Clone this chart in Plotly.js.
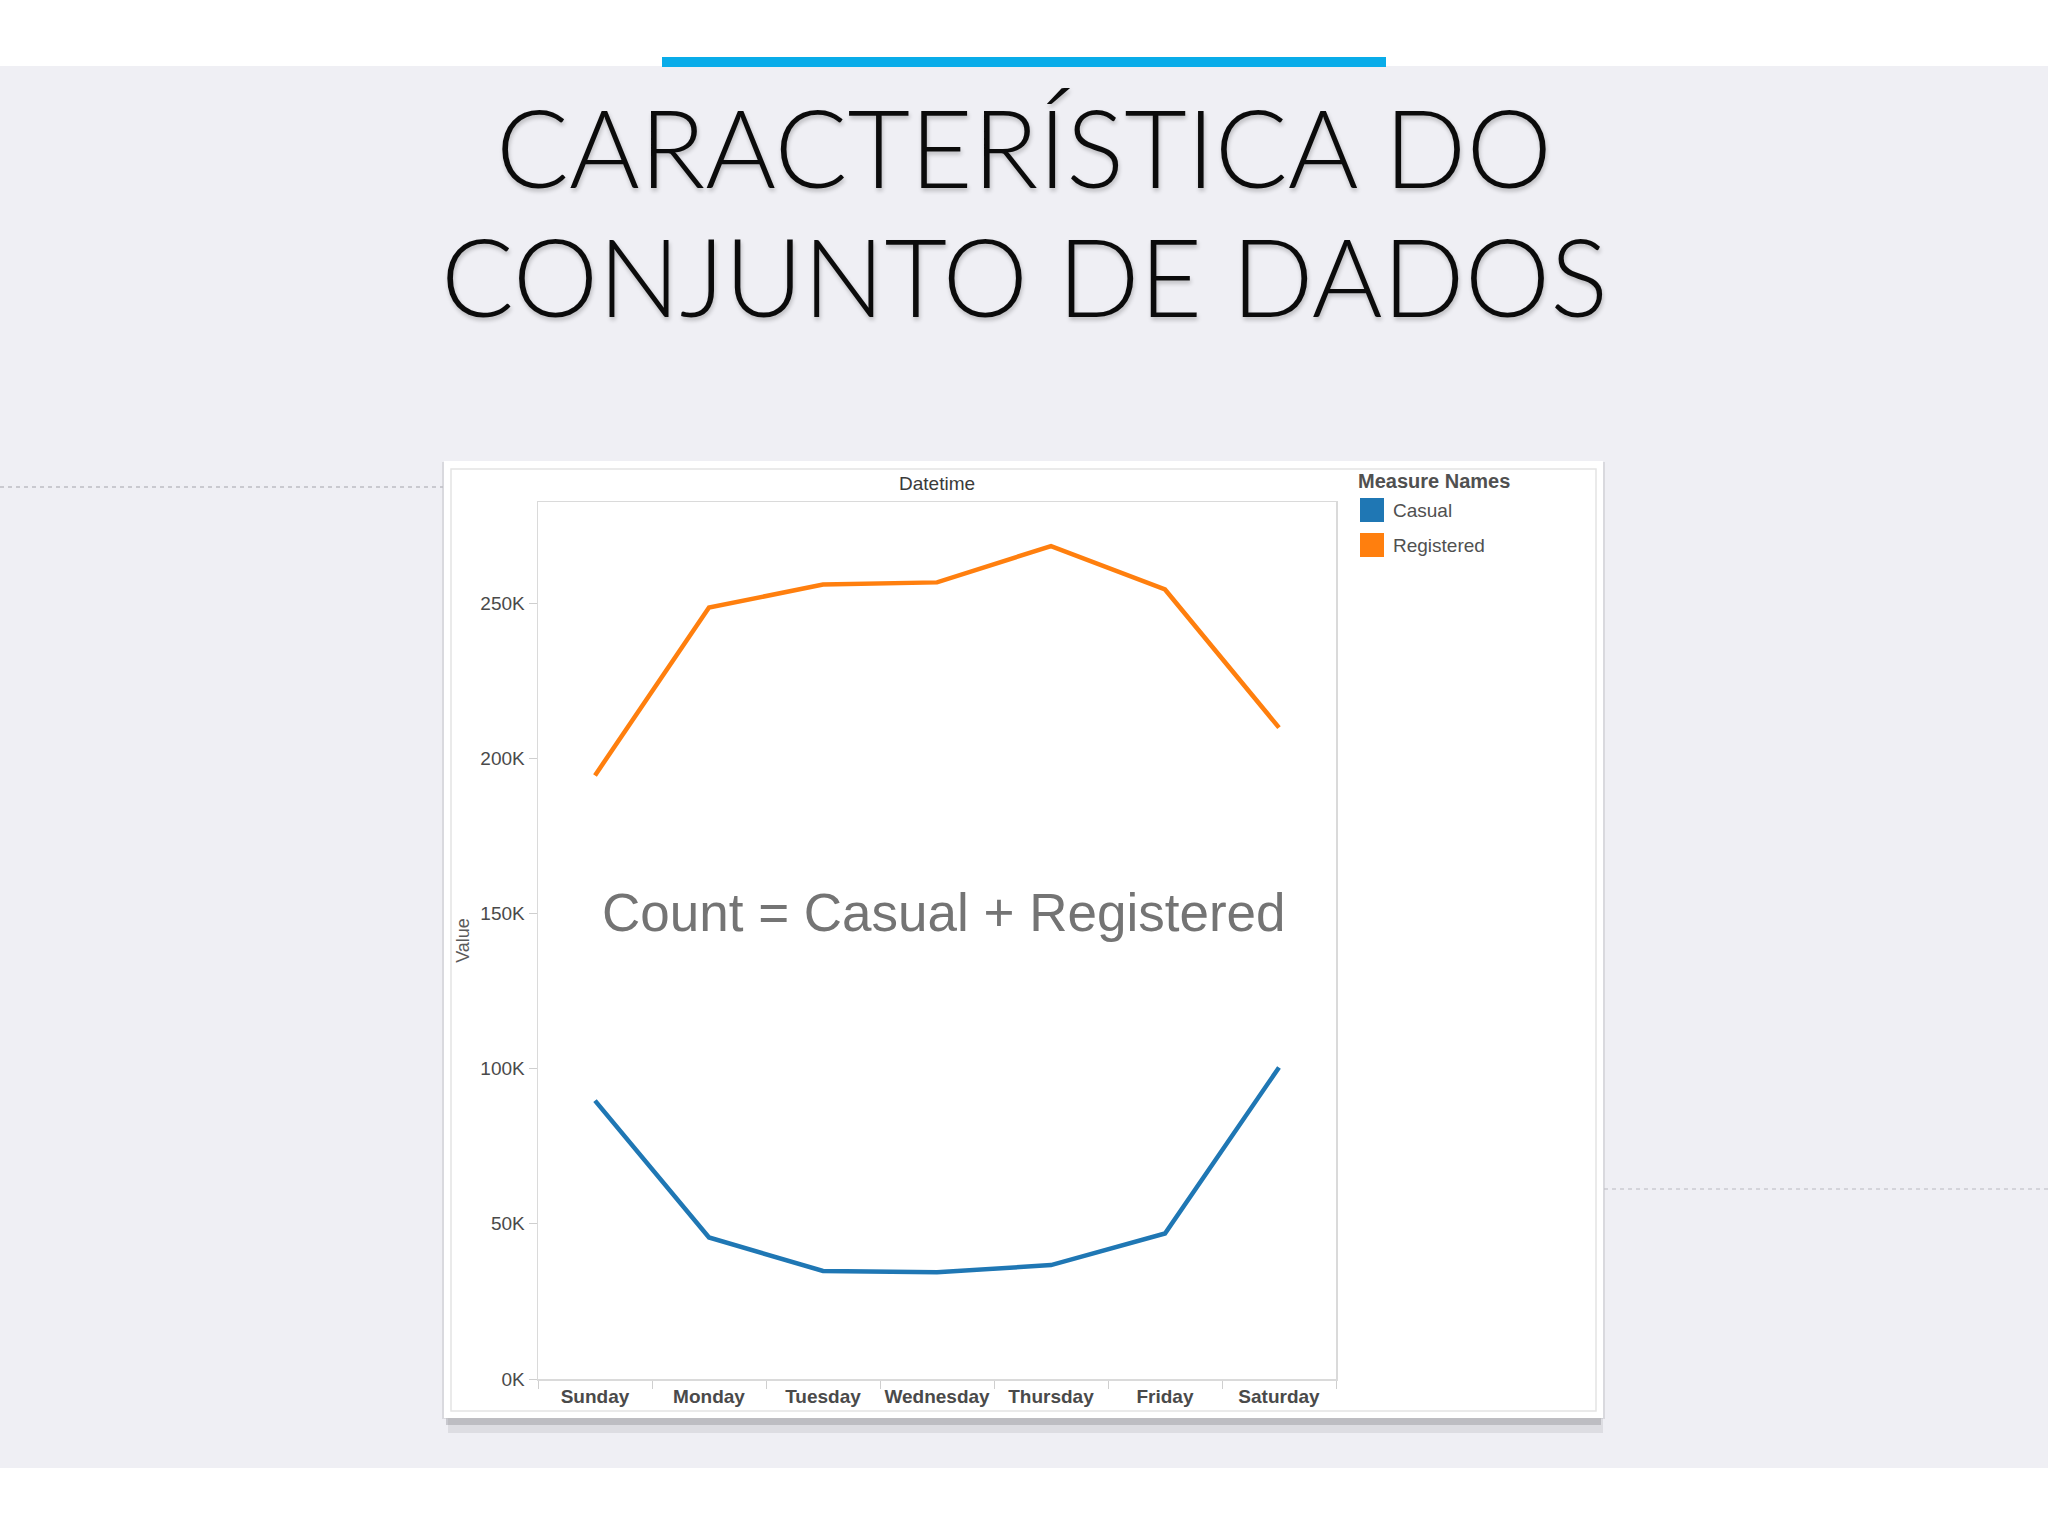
<!DOCTYPE html>
<html>
<head>
<meta charset="utf-8">
<script src="https://cdn.plot.ly/plotly-3.0.1.min.js"></script>
<style>html,body{margin:0;padding:0;background:#efeff4;}#chart{width:2048px;height:1536px;}</style>
</head>
<body>
<div id="chart"></div>
<script>
// ---- data ----
const days = ["Sunday","Monday","Tuesday","Wednesday","Thursday","Friday","Saturday"];
const casual = [89700, 45600, 34800, 34400, 36700, 46900, 100400];
const registered = [194500, 248600, 256000, 256700, 268400, 254400, 209900];
const seriesNames = ["Casual","Registered"];
const seriesColors = ["#1f77b4","#ff7f0e"];
const yTickVals = [0, 50000, 100000, 150000, 200000, 250000];
const yTickText = ["0K","50K","100K","150K","200K","250K"];
const slideTitle1 = "CARACTERÍSTICA DO";
const slideTitle2 = "CONJUNTO DE DADOS";
const columnHeader = "Datetime";
const yTitle = "Value";
const legendTitle = "Measure Names";
const note = "Count = Casual + Registered";

// ---- layout geometry (pixels) ----
const L = 538, R = 1336, T = 502, B = 1379;
const W = R - L, H = B - T;
const px = x => (x - L) / W;
const py = y => (B - y) / H;
const FONT = "Arial, 'Liberation Sans', sans-serif";

const traces = [
  {x: days, y: casual, name: seriesNames[0], type: "scatter", mode: "lines",
   line: {color: seriesColors[0], width: 4.5}, showlegend: false, hoverinfo: "x+y+name"},
  {x: days, y: registered, name: seriesNames[1], type: "scatter", mode: "lines",
   line: {color: seriesColors[1], width: 4.5}, showlegend: false, hoverinfo: "x+y+name"}
];

function rect(x0, y0, x1, y1, fill, lineColor, lineWidth) {
  return {type: "rect", xref: "paper", yref: "paper", layer: "below",
    x0: px(x0), x1: px(x1), y0: py(y0), y1: py(y1),
    fillcolor: fill, line: {color: lineColor || "rgba(0,0,0,0)", width: lineWidth || 0}};
}
function hline(x0, x1, y, color, dash) {
  return {type: "line", xref: "paper", yref: "paper", layer: "below",
    x0: px(x0), x1: px(x1), y0: py(y), y1: py(y),
    line: {color: color, width: 2, dash: dash}};
}

const shapes = [
  rect(0, 0, 2048, 66, "#ffffff"),
  rect(0, 1468, 2048, 1536, "#ffffff"),
  rect(662, 57, 1386, 67, "#09ace9"),
  hline(0, 443, 487, "#c9c9cf", "4px,4px"),
  hline(1604, 2048, 1189, "#d4d4da", "4px,4px"),
  // card shadow
  rect(448, 1416, 1603, 1433, "rgba(160,160,166,0.22)"),
  rect(446, 1416, 1601, 1425, "rgba(130,130,136,0.35)"),
  rect(442, 462, 1605, 1419, "rgba(190,190,196,0.45)"),
  // card
  rect(444, 461, 1603, 1418, "#ffffff"),
  rect(451, 469, 1596, 1411, "#ffffff", "#e4e4e4", 1.5),
  // legend swatches
  rect(1360, 498, 1384, 522, seriesColors[0]),
  rect(1360, 533, 1384, 557, seriesColors[1])
];

const titleFont = {family: "Lato, 'Noto Sans', sans-serif", size: 108, weight: 300, color: "#0b0b0b",
                   shadow: "1px 3px 4px rgba(0,0,0,0.22)"};

const annotations = [
  {text: slideTitle1, xref: "paper", yref: "paper", x: px(1024), y: py(146),
   xanchor: "center", yanchor: "middle", showarrow: false, font: titleFont},
  {text: slideTitle2, xref: "paper", yref: "paper", x: px(1024), y: py(275),
   xanchor: "center", yanchor: "middle", showarrow: false, font: titleFont},
  {text: columnHeader, xref: "paper", yref: "paper", x: 0.5, y: py(484),
   xanchor: "center", yanchor: "middle", showarrow: false,
   font: {family: FONT, size: 19, color: "#3a3a3a"}},
  {text: note, xref: "paper", yref: "paper", x: px(944), y: py(912.5),
   xanchor: "center", yanchor: "middle", showarrow: false,
   font: {family: FONT, size: 53, color: "#747474"}},
  {text: "<b>" + legendTitle + "</b>", xref: "paper", yref: "paper", x: px(1356), y: py(481),
   xanchor: "left", yanchor: "middle", showarrow: false,
   font: {family: FONT, size: 20, color: "#505050"}},
  {text: seriesNames[0], xref: "paper", yref: "paper", x: px(1391), y: py(510),
   xanchor: "left", yanchor: "middle", showarrow: false,
   font: {family: FONT, size: 19, color: "#505050"}},
  {text: seriesNames[1], xref: "paper", yref: "paper", x: px(1391), y: py(545),
   xanchor: "left", yanchor: "middle", showarrow: false,
   font: {family: FONT, size: 19, color: "#505050"}}
];

const layout = {
  width: 2048, height: 1536,
  margin: {l: L, r: 2048 - R, t: T, b: 1536 - B, pad: 0},
  paper_bgcolor: "#efeff4",
  plot_bgcolor: "rgba(0,0,0,0)",
  showlegend: false,
  font: {family: FONT, color: "#555"},
  xaxis: {
    type: "category", categoryorder: "array", categoryarray: days,
    range: [-0.5, 6.5], fixedrange: true, tickangle: 0,
    tickson: "boundaries", ticks: "outside", ticklen: 8, tickcolor: "#cfcfcf", tickwidth: 1,
    showline: true, linecolor: "#dadada", linewidth: 1.5, mirror: true,
    showgrid: false, zeroline: false,
    tickfont: {family: FONT, size: 19, color: "#4a4a4a", weight: "bold"}
  },
  yaxis: {
    range: [0, 282600], fixedrange: true,
    tickvals: yTickVals, ticktext: yTickText,
    ticks: "outside", ticklen: 8, tickcolor: "#cfcfcf", tickwidth: 1,
    showline: true, linecolor: "#dadada", linewidth: 1.5, mirror: true,
    showgrid: false, zeroline: false,
    tickfont: {family: FONT, size: 19, color: "#4a4a4a"},
    title: {text: yTitle, standoff: 6, font: {family: FONT, size: 18, color: "#5a5a5a"}}
  },
  shapes: shapes,
  annotations: annotations
};

Plotly.newPlot("chart", traces, layout, {displayModeBar: false, staticPlot: true});
</script>
</body>
</html>
